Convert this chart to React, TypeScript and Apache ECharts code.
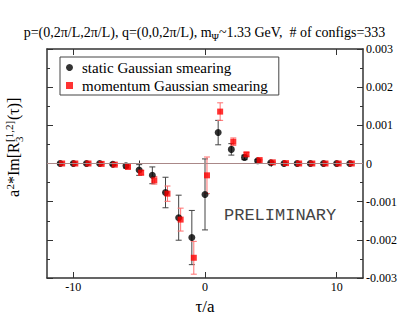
import React, { useEffect, useRef } from "react";
import * as echarts from "echarts";

// ---- data ----
const tau = [-11, -10, -9, -8, -7, -6, -5, -4, -3, -2, -1, 0, 1, 2, 3, 4, 5, 6, 7, 8, 9, 10, 11];
const staticVal = [0, 0, 0, 0, -0.00002, -0.00006, -0.00017, -0.00031, -0.00076, -0.00142, -0.00194, -0.00081,
  0.00081, 0.00037, 0.00016, 0.00007, 0.00002, 0, 0, 0, 0, 0, 0];
const staticErr = [0.00001, 0.00001, 0.00001, 0.00001, 0.00003, 0.00006, 0.00014, 0.00022, 0.0004, 0.00059, 0.00071, 0.00093,
  0.00032, 0.00015, 0.00006, 0.00003, 0.00001, 0.00001, 0.00001, 0.00001, 0.00001, 0.00001, 0.00001];
const momentumVal = [0, 0, 0, -0.00001, -0.00003, -0.00009, -0.00024, -0.00044, -0.00079, -0.00147, -0.00247, -0.00031,
  0.00136, 0.00057, 0.00024, 0.00009, 0.00003, 0.00001, 0, 0, 0, 0, 0];
const momentumErr = [0.00001, 0.00001, 0.00001, 0.00001, 0.00002, 0.00003, 0.00006, 0.0001, 0.0002, 0.0003, 0.00043, 0.00048,
  0.00023, 0.0001, 0.00005, 0.00002, 0.00001, 0.00001, 0.00001, 0.00001, 0.00001, 0.00001, 0.00001];
const momentumShift = 0.15;
const xMajorTicks = [-10, 0, 10];
const xMinorTicks = [-5, 5];

const SERIF = "Liberation Serif";
const FRAME = "#333";

function errRender(color: string) {
  return (params: any, api: any) => {
    const x = api.value(0);
    const y = api.value(1);
    const e = api.value(2);
    const top = api.coord([x, y + e]);
    const bot = api.coord([x, y - e]);
    const w = 3;
    const style = { stroke: color, lineWidth: 1 };
    return {
      type: "group",
      children: [
        { type: "line", shape: { x1: top[0], y1: top[1], x2: bot[0], y2: bot[1] }, style },
        { type: "line", shape: { x1: top[0] - w, y1: top[1], x2: top[0] + w, y2: top[1] }, style },
        { type: "line", shape: { x1: bot[0] - w, y1: bot[1], x2: bot[0] + w, y2: bot[1] }, style },
      ],
    };
  };
}

function txt(text: string, x: number, y: number, size: number) {
  return {
    type: "text",
    x,
    y,
    style: {
      text,
      font: `${size}px "${SERIF}"`,
      fill: "#000",
      textAlign: "left",
      textVerticalAlign: "middle",
      align: "left",
      verticalAlign: "middle",
    },
  };
}

export default function App() {
  const ref = useRef<HTMLDivElement>(null);
  useEffect(() => {
    if (!ref.current) return;
    const chart = echarts.init(ref.current, undefined, { renderer: "svg" });

    const staticPts = tau.map((t, i) => [t, staticVal[i]]);
    const staticErrPts = tau.map((t, i) => [t, staticVal[i], staticErr[i]]);
    const momPts = tau.map((t, i) => [t + momentumShift, momentumVal[i]]);
    const momErrPts = tau.map((t, i) => [t + momentumShift, momentumVal[i], momentumErr[i]]);

    const baseX = {
      type: "value",
      min: -12,
      max: 12,
      splitLine: { show: false },
      axisLine: { show: true, onZero: false, lineStyle: { color: FRAME, width: 1.5 } },
    };

    const yLabelFmt = (v: number) => (Math.abs(v) < 1e-12 ? "0" : v.toFixed(3));

    chart.setOption({
      animation: false,
      backgroundColor: "#fff",
      textStyle: { fontFamily: SERIF },
      title: {
        text: "p=(0,2π/L,2π/L), q=(0,0,2π/L), m{sub|Ψ}~1.33 GeV,  # of configs=333",
        left: "center",
        top: 22,
        padding: 0,
        textStyle: {
          fontFamily: SERIF,
          fontSize: 14,
          fontWeight: "normal",
          color: "#000",
          lineHeight: 20,
          rich: {
            sub: { fontFamily: SERIF, fontSize: 10, lineHeight: 12, verticalAlign: "bottom", color: "#000" },
          },
        },
      },
      grid: { left: 47, right: 46, top: 49, bottom: 49, containLabel: false },
      legend: {
        left: 60,
        top: 57,
        orient: "vertical",
        backgroundColor: "#fff",
        borderColor: "#444",
        borderWidth: 1,
        borderRadius: 0,
        padding: [3, 11, 2, 6],
        itemGap: 3,
        itemWidth: 7,
        itemHeight: 7,
        textStyle: { fontFamily: SERIF, fontSize: 15, color: "#000", lineHeight: 15, padding: [0, 0, 0, 4] },
        data: [
          { name: "static Gaussian smearing", icon: "circle" },
          { name: "momentum Gaussian smearing", icon: "rect" },
        ],
      },
      xAxis: [
        {
          ...baseX,
          position: "bottom",
          name: "τ/a",
          nameLocation: "middle",
          nameGap: 20,
          nameTextStyle: { fontFamily: SERIF, fontSize: 17, color: "#000" },
          axisTick: { show: true, inside: true, length: 6, customValues: xMajorTicks, lineStyle: { color: FRAME } },
          axisLabel: { show: true, margin: 3, customValues: xMajorTicks, fontFamily: SERIF, fontSize: 12, color: "#000" },
        },
        {
          ...baseX,
          position: "bottom",
          axisLine: { show: false },
          axisTick: { show: true, inside: true, length: 3, customValues: xMinorTicks, lineStyle: { color: FRAME } },
          axisLabel: { show: false },
        },
        {
          ...baseX,
          position: "top",
          axisTick: { show: true, inside: true, length: 6, customValues: xMajorTicks, lineStyle: { color: FRAME } },
          axisLabel: { show: false },
        },
        {
          ...baseX,
          position: "top",
          axisLine: { show: false },
          axisTick: { show: true, inside: true, length: 3, customValues: xMinorTicks, lineStyle: { color: FRAME } },
          axisLabel: { show: false },
        },
      ],
      yAxis: [
        {
          type: "value",
          position: "left",
          min: -0.003,
          max: 0.003,
          interval: 0.001,
          splitLine: { show: false },
          axisLine: { show: true, onZero: false, lineStyle: { color: FRAME, width: 1.5 } },
          axisTick: { show: true, inside: true, length: 6, lineStyle: { color: FRAME } },
          minorTick: { show: true, splitNumber: 2, length: 3, lineStyle: { color: FRAME } },
          axisLabel: { show: false },
        },
        {
          type: "value",
          position: "right",
          min: -0.003,
          max: 0.003,
          interval: 0.001,
          splitLine: { show: false },
          axisLine: { show: true, onZero: false, lineStyle: { color: FRAME, width: 1.5 } },
          axisTick: { show: true, inside: true, length: 6, lineStyle: { color: FRAME } },
          minorTick: { show: true, splitNumber: 2, length: 3, lineStyle: { color: FRAME } },
          axisLabel: { show: true, margin: 3, formatter: yLabelFmt, fontFamily: SERIF, fontSize: 12, color: "#000" },
        },
      ],
      series: [
        {
          type: "line",
          data: [],
          z: 1,
          silent: true,
          markLine: {
            silent: true,
            symbol: "none",
            label: { show: false },
            lineStyle: { color: "#a88", width: 1, type: "solid" },
            data: [{ yAxis: 0 }],
          },
        },
        {
          type: "custom",
          name: "static err",
          renderItem: errRender("#444"),
          data: staticErrPts,
          encode: { x: 0, y: 1 },
          z: 2,
          silent: true,
        },
        {
          type: "custom",
          name: "momentum err",
          renderItem: errRender("#ff6f6f"),
          data: momErrPts,
          encode: { x: 0, y: 1 },
          z: 2,
          silent: true,
        },
        {
          type: "scatter",
          name: "static Gaussian smearing",
          symbol: "circle",
          symbolSize: 7,
          itemStyle: { color: "#000" },
          data: staticPts,
          z: 3,
        },
        {
          type: "scatter",
          name: "momentum Gaussian smearing",
          symbol: "rect",
          symbolSize: 6,
          itemStyle: { color: "#ff0000" },
          data: momPts,
          z: 4,
        },
      ],
      graphic: [
        {
          type: "group",
          x: 18.5,
          y: 197,
          rotation: Math.PI / 2,
          children: [
            txt("a", 0, -5.4, 16),
            txt("2", 7.5, -8.5, 11),
            txt("*Im[R", 13, -5.4, 16),
            txt("3", 55, 0, 11),
            txt("[1,2]", 55, -10, 11),
            txt("(τ)]", 77, -5.4, 16),
          ],
        },
        {
          type: "text",
          x: 224,
          y: 215,
          style: {
            text: "PRELIMINARY",
            font: '17px "Liberation Mono"',
            fill: "#444",
            textAlign: "left",
            textVerticalAlign: "middle",
            align: "left",
            verticalAlign: "middle",
          },
        },
      ],
    });
    return () => chart.dispose();
  }, []);
  return <div ref={ref} style={{ width: 409, height: 327, position: "absolute", left: 0, top: 0 }} />;
}
